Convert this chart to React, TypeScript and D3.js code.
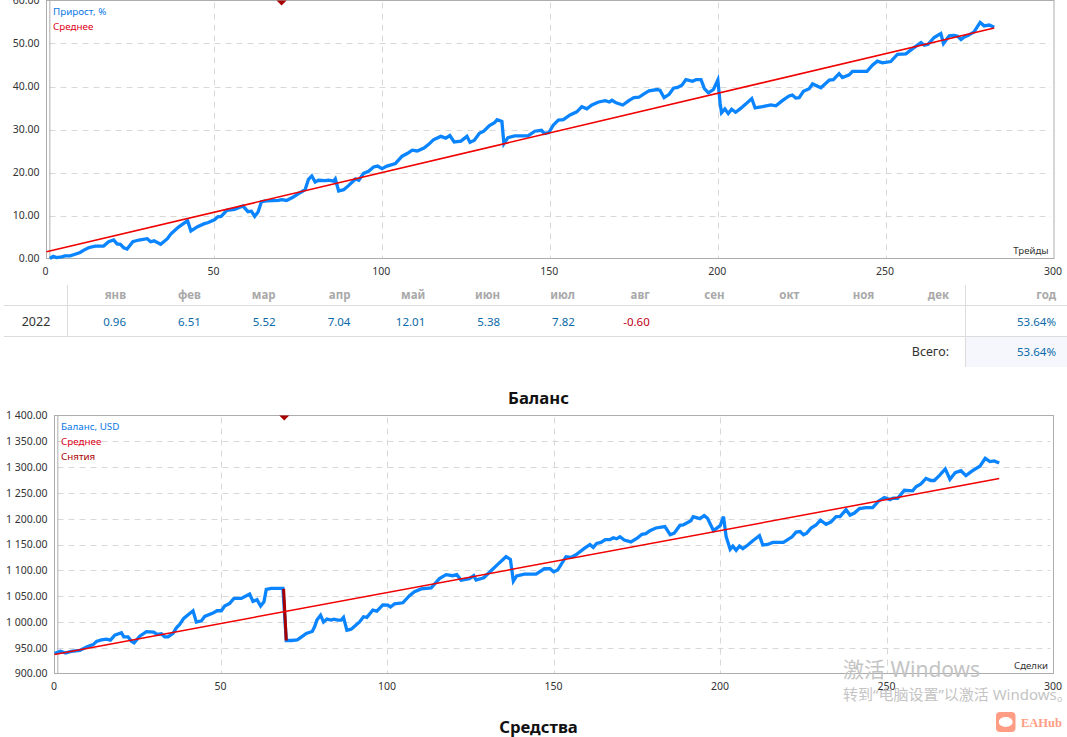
import { useEffect, useRef } from "react";
import * as d3 from "d3";

type Pt = [number, number];

const growthPoints: Pt[] = [
  [1, 0], [2, 0.5], [3, 0.2], [4.5, 0.4], [5.5, 0.6], [7, 0.6], [8.5, 1], [10, 1.4], [11, 1.9], [12.5, 2.5],
  [14.5, 2.9], [17, 2.9], [18.5, 3.9], [20, 4.3], [21, 3.4], [22, 3.3], [23, 2.5], [24, 2.2], [25.7, 3.9], [27.5, 4.3],
  [30, 4.6], [31, 3.9], [32, 4.1], [34, 3.3], [36, 4.6], [37, 5.7], [38, 6.4], [39.3, 7.3], [42, 8.8], [43, 6.4],
  [45, 7.4], [47, 8.1], [48, 8.3], [50, 9], [51, 9.7], [52, 9.8], [53.7, 11.2], [56, 11.4], [58.5, 12.2], [60, 10.9],
  [61, 11], [62, 9.8], [63, 10.8], [64, 13.2], [65.5, 13.4], [69, 13.5], [70, 13.7], [71.5, 13.5], [73.5, 14.3], [75.5, 15.3],
  [77, 16], [78, 18.4], [79, 19.2], [80, 17.8], [81, 18.2], [83, 18.1], [84, 18.2], [85.5, 18], [86, 18.5], [87, 15.7],
  [88.5, 16], [90, 17], [92, 18.5], [93, 18.2], [94.4, 19.8], [95.9, 20.3], [97.4, 21.3], [98.6, 21.5], [99.9, 20.9], [101.4, 21.5],
  [103.9, 22.1], [105.9, 23.8], [107.4, 24.4], [108.9, 25.2], [110.4, 25], [112.4, 25.7], [113.9, 26.6], [115.2, 27.6], [117.4, 28.4], [118.9, 28],
  [120.1, 28.6], [121.4, 27.1], [123.4, 27.3], [125.2, 28.4], [126.1, 27], [127.4, 27.5], [128.9, 29.1], [130.2, 29.6], [131.9, 30.9], [133.4, 31.6],
  [134.2, 32.3], [135.6, 31.9], [136.2, 26.7], [137.4, 28.1], [139.4, 28.5], [143.4, 28.5], [145.4, 29.6], [147.4, 29.8], [148.2, 29.1], [149.6, 29.3],
  [150.9, 31], [152.4, 32.2], [153.9, 32.3], [155.9, 33.4], [157.9, 34.1], [159.4, 35.3], [160.9, 34.8], [162.4, 35.7], [164.4, 36.4], [166.4, 36.7],
  [167.6, 36.4], [168.4, 36.8], [169.6, 36.2], [171.6, 35.7], [173.4, 36.7], [174.9, 37.4], [176.4, 37.5], [177.9, 38.3], [179.4, 39], [181.9, 39.3],
  [182.7, 39.1], [183.9, 37.4], [185.4, 38.2], [186.7, 39.6], [187.9, 39.8], [189.2, 40.3], [190.4, 41.6], [192.4, 41.2], [193.4, 41.6], [194.9, 41.6],
  [195.9, 39.5], [197.1, 38.5], [198.6, 39.3], [199.9, 41.5], [200.6, 36], [201, 33.9], [202, 34.8], [203, 33.7], [204, 34.7], [205.2, 34],
  [206.7, 34.9], [208.2, 35.9], [210, 37.2], [211, 35], [213.2, 35.3], [215.7, 35.7], [217.2, 35.5], [219.1, 36.7], [221.1, 37.8], [222.1, 38],
  [223.1, 37.3], [224.1, 37.4], [225.4, 38.9], [227.1, 39.5], [228.1, 40.6], [230.6, 39.7], [233.1, 41.5], [234.3, 41.6], [236, 43], [237, 42.1],
  [239, 42.7], [240, 43.5], [244.3, 43.5], [246, 45], [247.4, 45.9], [248.9, 45.5], [251.4, 45.8], [253.4, 47.5], [255.9, 47.6], [257.9, 48.8],
  [260.4, 50.2], [261.4, 49.6], [262.5, 49.8], [264.3, 51.4], [266.3, 52.3], [267.1, 50], [268.8, 51.8], [270.3, 51.9], [271.3, 51.7], [272.3, 50.9],
  [273.3, 51.5], [274.5, 51.9], [276.2, 52.7], [278, 54.9], [279.2, 54.1], [280.7, 54.3], [282.2, 53.8],
];
const growthMean: Pt[] = [[0, 1.55], [282.2, 53.6]];

const balancePoints: Pt[] = [
  [0, 938.8], [1.8, 943], [3.3, 939.5], [5, 943], [7.6, 944.6], [9.8, 951.7], [11.6, 956], [12.6, 962], [14.1, 965], [15.6, 966.6],
  [16.8, 964.7], [18.1, 974.4], [20.1, 979], [20.8, 971], [22.1, 971], [23.1, 962.7], [23.9, 959.5], [25.6, 972.4], [27.6, 981], [29.8, 980],
  [30.8, 975.7], [32.1, 977], [33.1, 971], [34.1, 971], [35.6, 978], [36.6, 988.6], [37.6, 995], [38.8, 1006.7], [41.6, 1021.6], [42.6, 999.6],
  [44.1, 1002], [45.1, 1010.6], [47.6, 1017], [48.8, 1021.6], [50.1, 1021.6], [51.1, 1030.6], [52.6, 1035.8], [53.9, 1045.5], [56.1, 1045.5], [58.6, 1054],
  [59.6, 1039.7], [60.8, 1043], [61.9, 1030.6], [62.9, 1039], [63.6, 1063], [65.1, 1065], [68.6, 1065], [69.6, 964], [71.1, 964], [72.9, 965],
  [74.1, 970.5], [75.6, 977.6], [77.4, 981.5], [78.1, 990.5], [78.8, 1003.5], [79.9, 1013], [80.8, 999.6], [81.8, 1005.4], [83.1, 1003.5], [83.9, 1005.4],
  [85.1, 1003.5], [86.1, 1003.5], [86.8, 1008.7], [87.8, 984], [89.1, 986], [91.6, 1000], [92.8, 1010], [93.8, 1008.7], [95.6, 1023], [96.8, 1021],
  [98.6, 1033], [100.1, 1032.6], [100.9, 1029], [102.1, 1035], [104.6, 1037], [106.6, 1050.7], [108.1, 1058.5], [110.1, 1064], [113.1, 1066], [115.6, 1084],
  [117.6, 1091.5], [119.6, 1089.5], [120.8, 1091.5], [122.1, 1081], [124.6, 1083.7], [125.9, 1089.5], [126.6, 1081], [128.9, 1085.6], [131.1, 1099], [133.1, 1111.5],
  [135.6, 1126.4], [136.9, 1121], [137.8, 1079], [138.8, 1089], [141.1, 1092.7], [144.6, 1092.7], [147.1, 1103], [148.8, 1103], [149.9, 1097], [151.1, 1100.5],
  [153.6, 1126.4], [155.1, 1125], [156.6, 1130], [159.1, 1142.5], [160.8, 1149.7], [161.8, 1144.5], [162.8, 1152], [164.1, 1154], [165.4, 1159.4], [166.8, 1159.4],
  [167.8, 1163], [168.8, 1161], [169.8, 1165], [171.1, 1158.7], [173.1, 1155], [175.1, 1163], [176.4, 1169.7], [177.6, 1171], [178.8, 1176.8], [180.6, 1182],
  [183.3, 1184.6], [184.9, 1169], [186.1, 1172], [187.8, 1187], [188.8, 1187.8], [191.1, 1196], [191.8, 1204], [193.8, 1200], [195.1, 1206], [196.1, 1200.8],
  [197.9, 1176.8], [199.9, 1186.5], [200.9, 1204], [201.7, 1165], [202.9, 1140.6], [203.7, 1147], [204.7, 1138.7], [205.7, 1147], [206.7, 1142], [208.2, 1149],
  [209.7, 1157.4], [211.7, 1167], [212.7, 1149], [214.2, 1150], [215.7, 1154], [218.9, 1154], [221.5, 1165], [222.7, 1174], [223.9, 1175], [224.9, 1169],
  [225.9, 1172], [227.2, 1182], [228.7, 1187.8], [230, 1197], [231.7, 1189], [233.2, 1194], [234.7, 1204], [235.9, 1204], [237.7, 1217.6], [238.9, 1207],
  [240.2, 1211], [241.7, 1219.5], [243.7, 1221.5], [245.7, 1221.5], [247.5, 1234.4], [249.2, 1241], [250.9, 1237], [251.9, 1240], [253.2, 1239.6], [255.2, 1255],
  [257.7, 1254], [258.7, 1262], [260.2, 1267.4], [261.7, 1278], [263.2, 1274], [264.2, 1274], [265.7, 1283.6], [267.5, 1296.5], [268.9, 1276.4], [270.5, 1289.4],
  [272.2, 1293], [273.7, 1283.6], [275.7, 1293], [277.9, 1301.7], [279.5, 1317], [280.9, 1310.7], [282.2, 1312], [283.7, 1308],
];
const balanceMean: Pt[] = [[0, 936.9], [283.7, 1277.7]];
const withdrawal: Pt[] = [[68.8, 1064], [69.6, 964]];

const monthNames = ["янв", "фев", "мар", "апр", "май", "июн", "июл", "авг", "сен", "окт", "ноя", "дек"];
const monthValues = ["0.96", "6.51", "5.52", "7.04", "12.01", "5.38", "7.82", "-0.60", "", "", "", ""];

const FONT = "Tahoma, 'Noto Sans', sans-serif";
const BLUE = "#0a84ff";
const RED = "#f00000";
const DARK_RED = "#a80000";

const fmt = d3.formatLocale({ decimal: ".", thousands: " ", grouping: [3], currency: ["", ""] }).format(",.2f");

type PanelProps = {
  x0: number;
  x1: number;
  y0: number;
  y1: number;
  yDomain: [number, number];
  yStep: number;
  points: Pt[];
  mean: Pt[];
  drop?: Pt[];
  dropMark: number;
  legend: { text: string; color: string }[];
  xName: string;
  xLabelShift: number;
};

function Panel({ x0, x1, y0, y1, yDomain, yStep, points, mean, drop, dropMark, legend, xName, xLabelShift }: PanelProps) {
  const ref = useRef<SVGGElement | null>(null);

  useEffect(() => {
    if (!ref.current) return;
    const g = d3.select(ref.current);
    g.selectAll("*").remove();

    const x = d3.scaleLinear().domain([0, 300]).range([x0, x1]);
    const y = d3.scaleLinear().domain(yDomain).range([y0, y1]);
    const yTicks = d3.range(yDomain[0], yDomain[1] + 1, yStep);
    const xTicks = d3.range(0, 301, 50);

    // Grid
    g.append("g")
      .selectAll("line")
      .data(yTicks.slice(1, -1))
      .join("line")
      .attr("x1", x0 + 3)
      .attr("x2", x1 - 3)
      .attr("y1", (d) => Math.round(y(d)) + 0.5)
      .attr("y2", (d) => Math.round(y(d)) + 0.5)
      .attr("stroke", "#d8d8d8")
      .attr("stroke-dasharray", "6 5");
    g.append("g")
      .selectAll("line")
      .data(xTicks.slice(1, -1))
      .join("line")
      .attr("x1", (d) => Math.round(x(d)) + 0.5)
      .attr("x2", (d) => Math.round(x(d)) + 0.5)
      .attr("y1", y1 + 2)
      .attr("y2", y0)
      .attr("stroke", "#d8d8d8")
      .attr("stroke-dasharray", "6 5");

    // Frame
    g.append("rect")
      .attr("x", x0)
      .attr("y", y1)
      .attr("width", x1 - x0)
      .attr("height", y0 - y1)
      .attr("fill", "none")
      .attr("stroke", "#adadad");
    g.append("line")
      .attr("x1", x(1))
      .attr("x2", x(1))
      .attr("y1", y1)
      .attr("y2", y0)
      .attr("stroke", "#adadad");

    // Axes
    const xAxis = g
      .append("g")
      .attr("transform", `translate(${xLabelShift},${y0 + 6})`)
      .call(d3.axisBottom(x).tickValues(xTicks).tickSize(0).tickFormat((d) => String(d)));
    const yAxis = g
      .append("g")
      .attr("transform", `translate(${x0 - 5},0)`)
      .call(d3.axisLeft(y).tickValues(yTicks).tickSize(0).tickFormat((d) => fmt(d as number)));
    [xAxis, yAxis].forEach((a) => {
      a.select(".domain").remove();
      a.selectAll("text").attr("font-family", FONT).attr("font-size", 10.5).attr("fill", "#333");
    });
    yAxis.selectAll("text").attr("x", -2);

    const line = d3
      .line<Pt>()
      .x((d) => x(d[0]))
      .y((d) => y(d[1]));

    g.append("path")
      .attr("d", line(points))
      .attr("fill", "none")
      .attr("stroke", BLUE)
      .attr("stroke-width", 3.3)
      .attr("stroke-linejoin", "miter");
    if (drop) {
      g.append("path").attr("d", line(drop)).attr("fill", "none").attr("stroke", DARK_RED).attr("stroke-width", 3);
    }
    g.append("path").attr("d", line(mean)).attr("fill", "none").attr("stroke", RED).attr("stroke-width", 1.5);

    // Withdrawal marker at the top edge
    const mx = x(dropMark);
    g.append("path")
      .attr("d", d3.line()([[mx - 5, y1], [mx + 5, y1], [mx, y1 + 5]]) + "Z")
      .attr("fill", DARK_RED);

    legend.forEach((d, i) => {
      g.append("text")
        .attr("x", x0 + 6.5)
        .attr("y", y1 + 14 + i * 15)
        .attr("font-family", FONT)
        .attr("font-size", 9.8)
        .attr("fill", d.color)
        .text(d.text);
    });

    g.append("text")
      .attr("x", x1 - 5.5)
      .attr("y", y0 - 5)
      .attr("text-anchor", "end")
      .attr("font-family", FONT)
      .attr("font-size", 9.6)
      .attr("fill", "#333")
      .text(xName);
  }, [x0, x1, y0, y1, yDomain, yStep, points, mean, drop, dropMark, legend, xName, xLabelShift]);

  return <g ref={ref} />;
}

const growthLegend = [
  { text: "Прирост, %", color: "#0a78e6" },
  { text: "Среднее", color: "#e00020" },
];
const balanceLegend = [
  { text: "Баланс, USD", color: "#0a78e6" },
  { text: "Среднее", color: "#e00020" },
  { text: "Снятия", color: DARK_RED },
];
const growthRange: [number, number] = [0, 60];
const balanceRange: [number, number] = [900, 1400];

export default function App() {
  const monthX = d3.scaleLinear().domain([0, 11]).range([126, 949]);
  const cell = { fontFamily: FONT, fontSize: 11.5 };

  return (
    <svg
      width={1067}
      height={737}
      viewBox="0 0 1067 737"
      style={{ position: "absolute", left: 0, top: 0, display: "block", background: "#fff" }}
    >
      <Panel
        x0={46.5}
        x1={1054}
        y0={258.5}
        y1={0.5}
        yDomain={growthRange}
        yStep={10}
        points={growthPoints}
        mean={growthMean}
        dropMark={70}
        legend={growthLegend}
        xName="Трейды"
        xLabelShift={-1.5}
      />

      {/* Monthly table */}
      <g stroke="#dcdcdc" fill="none">
        <line x1={4} x2={1067} y1={305.5} y2={305.5} />
        <line x1={4} x2={1067} y1={336.5} y2={336.5} />
        <line x1={67.5} x2={67.5} y1={285} y2={336} />
      </g>
      <rect x={965} y={337} width={102} height={30} fill="#f5f7fd" />
      <line x1={965.5} x2={965.5} y1={285} y2={367} stroke="#dcdcdc" />
      {monthNames.map((m, i) => (
        <text key={m} x={monthX(i)} y={299} textAnchor="end" fontWeight="bold" fill="#a9a9a9" {...cell}>
          {m}
        </text>
      ))}
      {monthValues.map((v, i) => (
        <text
          key={monthNames[i]}
          x={monthX(i)}
          y={326}
          textAnchor="end"
          fill={v.startsWith("-") ? "#c00018" : "#0a6aa8"}
          {...cell}
        >
          {v}
        </text>
      ))}
      <text x={1056} y={299} textAnchor="end" fontWeight="bold" fill="#a9a9a9" {...cell}>
        год
      </text>
      <text x={36} y={326} textAnchor="middle" fill="#333" fontFamily={FONT} fontSize={12.5}>
        2022
      </text>
      <text x={1056} y={326} textAnchor="end" fill="#0a6aa8" {...cell}>
        53.64%
      </text>
      <text x={949} y={356} textAnchor="end" fill="#333" fontFamily={FONT} fontSize={12.5}>
        Всего:
      </text>
      <text x={1056} y={356} textAnchor="end" fill="#0a6aa8" {...cell}>
        53.64%
      </text>

      <text x={538.5} y={404} textAnchor="middle" fontFamily={FONT} fontSize={16.7} fontWeight="bold" fill="#111">
        Баланс
      </text>

      <Panel
        x0={54.5}
        x1={1053.5}
        y0={673.5}
        y1={415.5}
        yDomain={balanceRange}
        yStep={50}
        points={balancePoints}
        mean={balanceMean}
        drop={withdrawal}
        dropMark={69}
        legend={balanceLegend}
        xName="Сделки"
        xLabelShift={-1}
      />

      <text x={538.5} y={733} textAnchor="middle" fontFamily={FONT} fontSize={16.7} fontWeight="bold" fill="#111">
        Средства
      </text>

      {/* Watermark and logo sitting on the screenshot */}
      <g fill="#c4c4c4" fontFamily="'Noto Sans', 'Noto Sans CJK SC', sans-serif">
        <text x={843} y={677} fontSize={21}>
          激活 Windows
        </text>
        <text x={843} y={700} fontSize={15}>
          转到“电脑设置”以激活 Windows。
        </text>
      </g>
      <rect x={996} y={712} width={19.5} height={20} rx={4} fill="#ff9c84" />
      <ellipse cx={1005.7} cy={722} rx={7} ry={5} fill="#fff" />
      <text x={1021} y={727} fontFamily="'Liberation Serif', serif" fontSize={12.5} fontWeight="bold" fill="#ff9c84">
        EAHub
      </text>
    </svg>
  );
}
